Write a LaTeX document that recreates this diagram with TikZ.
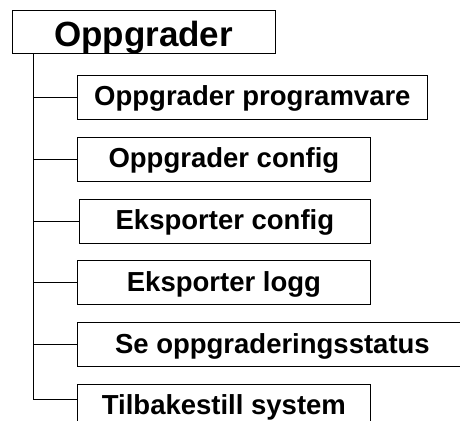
\documentclass[tikz,border=0pt]{standalone}
\usepackage{fontspec}
\setmainfont{Liberation Sans}
\usetikzlibrary{positioning}

\begin{document}
\begin{tikzpicture}[
    x=1pt, y=1pt,
    node distance=17.2pt,
    menu/.style={draw, line width=0.8pt, inner sep=0pt, font=\fontsize{35}{40}\selectfont\bfseries,
        minimum width=263pt, minimum height=43pt, text height=35pt, text depth=5.6pt},
    item/.style={draw, line width=0.8pt, inner sep=0pt, font=\fontsize{27.5}{32}\selectfont\bfseries,
        minimum width=293pt, minimum height=44pt, text height=24pt, text depth=7pt},
    branch/.style={line width=0.8pt}
]
\clip (0,0) rectangle (460,-420);
\node[menu] (main) at (143.5,-31.5) {Oppgrader};

\node[item, minimum width=350pt, anchor=north west] (upgsw) at (77,-75) {Oppgrader programvare};
\node[item, below=of upgsw.south west, anchor=north west] (upgcfg) {Oppgrader config};
\node[item, below=of upgcfg.south west, anchor=north west, xshift=2pt, minimum width=291pt] (expcfg) {Eksporter config};
\node[item, below=of upgcfg.south west, anchor=north west, yshift=-61.2pt] (explog) {Eksporter logg};
\node[item, below=of explog.south west, anchor=north west, minimum width=390pt] (status) {Se oppgraderingsstatus};
\node[item, below=of status.south west, anchor=north west, text depth=9pt] (restore) {Tilbakestill system};

% tree lines
\coordinate (trunk) at ([xshift=21.5pt]main.south west);
\draw[branch] (trunk) |- ([yshift=7pt]restore.west);
\foreach \n in {upgsw,upgcfg,expcfg,explog,status}
    \draw[branch] (trunk |- \n.west) -- (\n.west);
\end{tikzpicture}
\end{document}
